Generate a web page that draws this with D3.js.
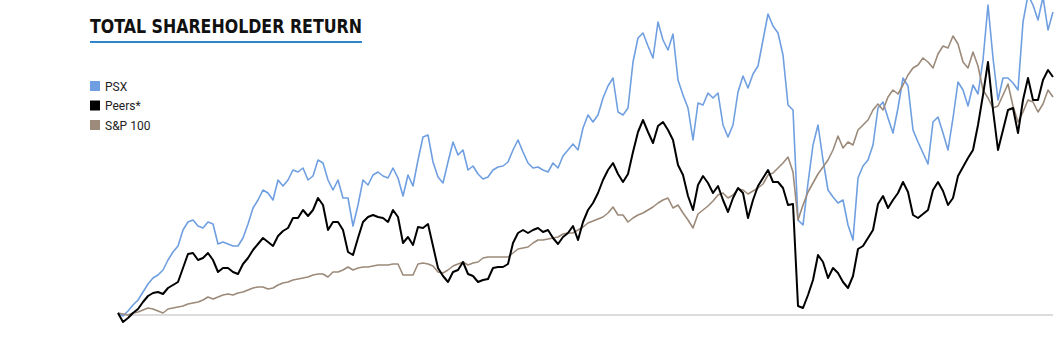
<!DOCTYPE html>
<html>
<head>
<meta charset="utf-8">
<script src="https://cdn.jsdelivr.net/npm/d3@7"></script>
<style>
  html, body { margin: 0; padding: 0; background: #fff; }
  svg { display: block; }
  .title { font-family: "DejaVu Sans Condensed", "DejaVu Sans", sans-serif; font-weight: bold; fill: #111; }
  .legend text { font-family: Roboto, "Open Sans", sans-serif; font-size: 12px; fill: #222; }
</style>
</head>
<body>
<div id="chart"></div>
<script>
// TSR index, start = 100, sampled at equal steps through the period
const psx = [
  102, 99, 104, 110, 115, 123, 131, 137, 140, 145,
  155, 163, 169, 185, 193, 195, 189, 187, 193, 191,
  171, 173, 171, 169, 169, 177, 191, 207, 215, 225,
  222, 215, 235, 229, 235, 245, 243, 247, 235, 239,
  255, 252, 235, 225, 235, 217, 217, 189, 210, 235,
  230, 240, 243, 239, 237, 247, 237, 219, 240, 229,
  255, 278, 280, 253, 238, 232, 253, 273, 260, 265,
  245, 249, 241, 236, 238, 245, 248, 249, 253, 265,
  275, 263, 252, 247, 248, 245, 243, 252, 247, 259,
  265, 271, 265, 287, 300, 293, 300, 317, 329, 337,
  303, 300, 307, 353, 377, 382, 369, 357, 393, 375,
  365, 381, 335, 320, 307, 275, 312, 310, 322, 317,
  322, 290, 278, 290, 323, 339, 327, 341, 349, 375,
  401, 389, 382, 360, 310, 305, 195, 190, 232, 270,
  290, 255, 225, 218, 212, 215, 190, 175, 237, 249,
  255, 270, 307, 313, 297, 282, 307, 337, 329, 285,
  273, 262, 251, 293, 298, 282, 265, 297, 333, 325,
  309, 330, 321, 355, 410, 357, 315, 337, 337, 332,
  325, 393, 420, 410, 395, 418, 385, 403
];
const peers = [
  102, 93, 97, 102, 106, 113, 119, 122, 123, 121,
  127, 130, 133, 147, 161, 162, 155, 157, 162, 155,
  143, 147, 147, 143, 141, 151, 157, 165, 171, 177,
  173, 169, 179, 184, 187, 197, 197, 205, 199, 205,
  217, 210, 185, 193, 193, 185, 163, 160, 177, 193,
  198, 200, 198, 197, 193, 205, 198, 172, 178, 170,
  188, 187, 191, 169, 147, 139, 133, 143, 145, 153,
  141, 139, 133, 135, 136, 147, 148, 148, 151, 172,
  182, 185, 182, 185, 187, 183, 185, 177, 171, 178,
  182, 189, 175, 193, 205, 212, 222, 235, 245, 252,
  241, 233, 241, 263, 283, 295, 283, 272, 289, 293,
  285, 275, 250, 240, 219, 205, 230, 239, 232, 222,
  229, 215, 203, 217, 227, 222, 197, 215, 229, 237,
  245, 233, 233, 227, 210, 211, 109, 107, 120, 135,
  160, 153, 137, 147, 142, 133, 127, 139, 166, 169,
  177, 185, 211, 219, 207, 215, 222, 233, 223, 200,
  197, 201, 205, 225, 233, 224, 210, 217, 239, 248,
  257, 265, 290, 320, 353, 305, 265, 285, 305, 307,
  282, 315, 337, 315, 315, 335, 345, 338
];
const sp100 = [
  102, 101, 100, 102, 103, 105, 107, 106, 104, 102,
  106, 107, 108, 109, 111, 112, 113, 115, 118, 116,
  118, 120, 121, 120, 122, 123, 125, 127, 128, 128,
  126, 127, 130, 132, 133, 135, 136, 137, 138, 140,
  141, 141, 138, 143, 143, 145, 148, 145, 147, 148,
  148, 149, 150, 150, 150, 151, 151, 140, 140, 140,
  151, 152, 151, 149, 143, 142, 145, 149, 151, 153,
  150, 152, 153, 157, 158, 158, 158, 158, 158, 162,
  166, 167, 168, 172, 175, 175, 176, 177, 178, 181,
  182, 182, 185, 188, 192, 194, 196, 198, 202, 208,
  200, 200, 193, 197, 200, 202, 205, 208, 212, 215,
  217, 207, 210, 202, 195, 187, 201, 205, 209, 214,
  220, 222, 217, 220, 226, 225, 221, 224, 227, 231,
  240, 242, 247, 252, 258, 243, 195, 210, 223, 232,
  241, 248, 255, 265, 279, 267, 273, 270, 285, 290,
  295, 305, 311, 305, 318, 325, 321, 330, 340, 347,
  350, 357, 353, 347, 361, 369, 367, 379, 371, 353,
  347, 363, 349, 325, 317, 307, 309, 320, 331, 309,
  293, 303, 315, 313, 303, 311, 325, 318
];

const series = [
  { name: 'PSX', values: psx, color: '#6f9fe0', width: 1.6 },
  { name: 'S&P 100', values: sp100, color: '#9c8a7a', width: 1.6 },
  { name: 'Peers*', values: peers, color: '#000000', width: 2 }
];
const legendOrder = ['PSX', 'Peers*', 'S&P 100'];

const width = 1064, height = 338;
const svg = d3.select('#chart').append('svg').attr('width', width).attr('height', height);

const x = d3.scaleLinear().domain([0, psx.length - 1]).range([118, 1053]);
const y = d3.scaleLinear().domain([100, 415]).range([315, 0]);

// baseline
svg.append('line')
  .attr('x1', x(0)).attr('x2', x(psx.length - 1))
  .attr('y1', y(100)).attr('y2', y(100))
  .attr('stroke', '#dcdcdc').attr('stroke-width', 2);

const line = d3.line().x((d, i) => x(i)).y(d => y(d));

svg.selectAll('path.series')
  .data(series)
  .enter()
  .append('path')
  .attr('class', 'series')
  .attr('d', d => line(d.values))
  .attr('fill', 'none')
  .attr('stroke', d => d.color)
  .attr('stroke-width', d => d.width)
  .attr('stroke-linejoin', 'round');

// title
svg.append('text')
  .attr('class', 'title')
  .attr('x', 90).attr('y', 33)
  .attr('font-size', 20)
  .attr('textLength', 272)
  .attr('lengthAdjust', 'spacingAndGlyphs')
  .text('TOTAL SHAREHOLDER RETURN');

svg.append('line')
  .attr('x1', 90).attr('x2', 362)
  .attr('y1', 42).attr('y2', 42)
  .attr('stroke', '#2f86cc').attr('stroke-width', 2);

// legend
const legendSize = 10, legendStep = 19.5;
const legend = svg.selectAll('.legend')
  .data(legendOrder)
  .enter()
  .append('g')
  .attr('class', 'legend')
  .attr('transform', (d, i) => `translate(90, ${81 + i * legendStep})`);

legend.append('rect')
  .attr('width', legendSize).attr('height', legendSize)
  .style('fill', d => series.find(s => s.name === d).color);

legend.append('text')
  .attr('x', legendSize + 5)
  .attr('y', legendSize - 0.5)
  .text(d => d);
</script>
</body>
</html>
